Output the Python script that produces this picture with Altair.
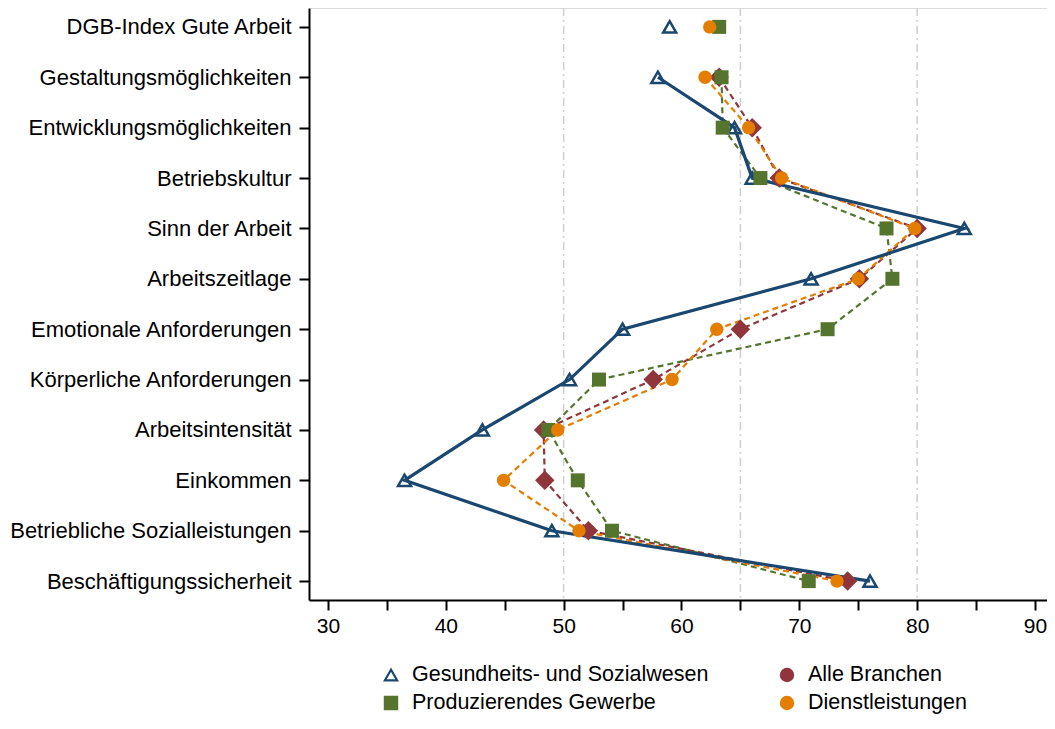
import altair as alt
import pandas as pd
import numpy as np

# ---------------- data ----------------
categories = [
    "DGB-Index Gute Arbeit",
    "Gestaltungsmöglichkeiten",
    "Entwicklungsmöglichkeiten",
    "Betriebskultur",
    "Sinn der Arbeit",
    "Arbeitszeitlage",
    "Emotionale Anforderungen",
    "Körperliche Anforderungen",
    "Arbeitsintensität",
    "Einkommen",
    "Betriebliche Sozialleistungen",
    "Beschäftigungssicherheit",
]

series_names = [
    "Gesundheits- und Sozialwesen",
    "Produzierendes Gewerbe",
    "Alle Branchen",
    "Dienstleistungen",
]

gesundheit = [59.0, 58.0, 64.5, 66.0, 84.0, 71.0, 55.0, 50.5, 43.1, 36.5, 49.0, 76.0]
produzierend = [63.2, 63.4, 63.5, 66.7, 77.4, 77.9, 72.4, 53.0, 48.7, 51.2, 54.1, 70.8]
alle = [None, 63.2, 66.0, 68.3, 80.0, 75.1, 65.0, 57.6, 48.3, 48.4, 52.1, 74.1]
dienst = [62.4, 62.0, 65.7, 68.5, 79.8, 75.0, 63.0, 59.2, 49.5, 44.9, 51.3, 73.2]

x_ticks = [30, 35, 40, 45, 50, 55, 60, 65, 70, 75, 80, 85, 90]
grid_values = [50, 65, 80]

legend_labels = ["Gesundheits- und Sozialwesen", "Alle Branchen",
                 "Produzierendes Gewerbe", "Dienstleistungen"]
legend_col = [0, 1, 0, 1]
legend_row = [0, 0, 1, 1]

# ---------------- styles ----------------
FONT = "Liberation Sans"
NAVY = "#1a476f"
GREEN = "#55752f"
MAROON = "#90353b"
ORANGE = "#e37e00"

style = {
    "Gesundheits- und Sozialwesen": dict(color=NAVY, shape="triangle-up", size=170, filled=False, dash=None, lw=3.2),
    "Produzierendes Gewerbe": dict(color=GREEN, shape="square", size=196, filled=True, dash=[6, 4], lw=2.2),
    "Alle Branchen": dict(color=MAROON, shape="diamond", size=380, filled=True, dash=[6, 4], lw=2.2),
    "Dienstleistungen": dict(color=ORANGE, shape="circle", size=180, filled=True, dash=[6, 4], lw=2.2),
}

vals = {
    "Gesundheits- und Sozialwesen": gesundheit,
    "Produzierendes Gewerbe": produzierend,
    "Alle Branchen": alle,
    "Dienstleistungen": dienst,
}

rows = []
for s in series_names:
    for i, (c, v) in enumerate(zip(categories, vals[s])):
        if v is None:
            continue
        rows.append({"cat": c, "idx": i, "series": s, "value": v})
df = pd.DataFrame(rows)

grid_df = pd.DataFrame({"value": grid_values})
leg_df = pd.DataFrame({"label": legend_labels, "col": legend_col, "row": legend_row})

# ---------------- scales ----------------
xscale = alt.Scale(domain=[28.39, 91.02], nice=False, zero=False)
yscale = alt.Scale(type="point", domain=categories, padding=0.375)

x_axis = alt.Axis(
    values=x_ticks,
    labelExpr="datum.value % 10 == 0 ? datum.label : ''",
    title=None, grid=False,
    tickColor="black", tickSize=10, tickWidth=2,
    domainColor="black", domainWidth=2,
    labelFont=FONT, labelFontSize=21, labelColor="black", labelPadding=5,
)
y_axis = alt.Axis(
    title=None, grid=False,
    tickColor="black", tickSize=10, tickWidth=2,
    domainColor="black", domainWidth=2,
    labelFont=FONT, labelFontSize=22, labelColor="black", labelPadding=8,
    labelLimit=500,
)

base = alt.Chart(df)

grid = alt.Chart(grid_df).mark_rule(
    color="#cfcfcf", strokeWidth=1.5, strokeDash=[8, 4, 2, 4]
).encode(x=alt.X("value:Q", scale=xscale, axis=x_axis))

layers = [grid]

# lines (DGB-Index not connected)
for s in ["Produzierendes Gewerbe", "Alle Branchen", "Dienstleistungen", "Gesundheits- und Sozialwesen"]:
    st = style[s]
    kw = dict(color=st["color"], strokeWidth=st["lw"])
    if st["dash"]:
        kw["strokeDash"] = st["dash"]
    ln = base.transform_filter(
        (alt.datum.series == s) & (alt.datum.idx >= 1)
    ).mark_line(**kw).encode(
        x=alt.X("value:Q", scale=xscale),
        y=alt.Y("cat:N", scale=yscale, axis=y_axis, sort=categories),
        order=alt.Order("idx:Q"),
    )
    layers.append(ln)

# points
for s in ["Gesundheits- und Sozialwesen", "Alle Branchen", "Produzierendes Gewerbe", "Dienstleistungen"]:
    st = style[s]
    if st["filled"]:
        mk = dict(shape=st["shape"], size=st["size"], filled=True, color=st["color"], opacity=1)
    else:
        mk = dict(shape=st["shape"], size=st["size"], filled=False, color=st["color"],
                  strokeWidth=2.5, opacity=1)
    pt = base.transform_filter(alt.datum.series == s).mark_point(**mk).encode(
        x=alt.X("value:Q", scale=xscale),
        y=alt.Y("cat:N", scale=yscale, sort=categories),
    )
    layers.append(pt)

main = alt.layer(*layers)

# ---------------- legend ----------------
leg_x = alt.X("col:Q", scale=alt.Scale(domain=[0, 1], range=[82, 478]), axis=None)
leg_y = alt.Y("row:Q", scale=alt.Scale(domain=[0, 1], range=[667, 695]), axis=None)

leg_shape = alt.Shape("label:N", scale=alt.Scale(
    domain=series_names, range=["triangle-up", "square", "circle", "circle"]), legend=None)
leg_fill = alt.Fill("label:N", scale=alt.Scale(
    domain=series_names, range=["white", GREEN, MAROON, ORANGE]), legend=None)
leg_stroke = alt.Stroke("label:N", scale=alt.Scale(
    domain=series_names, range=[NAVY, GREEN, MAROON, ORANGE]), legend=None)

leg_pts = alt.Chart(leg_df).mark_point(filled=True, size=150, strokeWidth=2.2, opacity=1).encode(
    x=leg_x, y=leg_y, shape=leg_shape, fill=leg_fill, stroke=leg_stroke,
)
leg_txt = alt.Chart(leg_df).mark_text(
    align="left", baseline="middle", dx=21, font=FONT, fontSize=21.5, color="black"
).encode(x=leg_x, y=leg_y, text="label:N")

legend = alt.layer(leg_pts, leg_txt)

chart = alt.layer(main, legend).resolve_scale(
    x="independent", y="independent", shape="independent", fill="independent", stroke="independent"
).properties(
    width=738, height=592,
    autosize=alt.AutoSizeParams(type="none"),
    padding={"left": 301, "top": 0, "right": 0, "bottom": 116},
).configure_view(stroke=None).configure(background="white")

chart.save("out.html", embed_options={"renderer": "svg", "actions": False})
